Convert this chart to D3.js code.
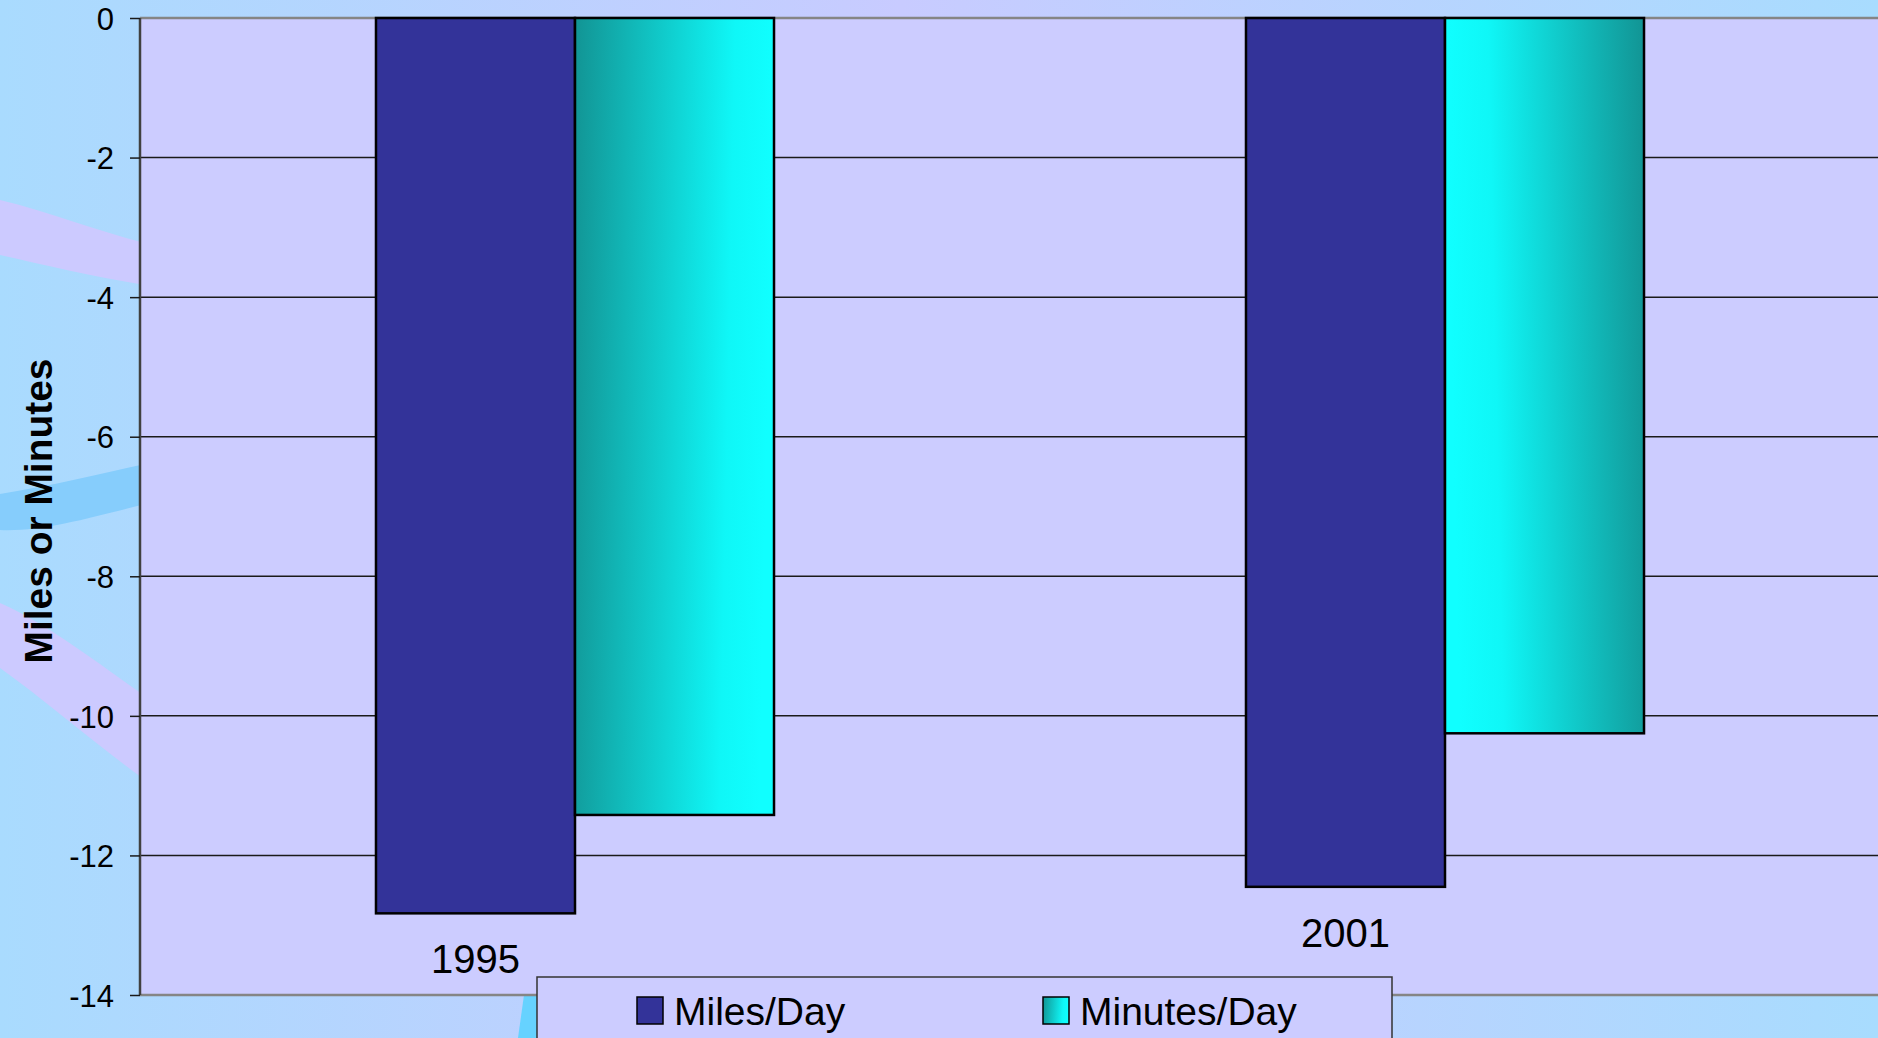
<!DOCTYPE html>
<html>
<head>
<meta charset="utf-8">
<script src="https://cdn.jsdelivr.net/npm/d3@7"></script>
<style>
  html, body { margin: 0; padding: 0; overflow: hidden; }
  svg { display: block; font-family: "Liberation Sans", Arial, sans-serif; }
</style>
</head>
<body>
<svg id="chart"></svg>
<script>
// Chart data
var years = ["1995", "2001"];
var seriesNames = ["Miles/Day", "Minutes/Day"];
var milesPerDay = [-12.83, -12.45];
var minutesPerDay = [-11.42, -10.25];
var yTicks = [0, -2, -4, -6, -8, -10, -12, -14];

var width = 1878;
var height = 1038;
var plotLeft = 140, plotRight = 1880, plotTop = 18, plotBottom = 995;

var svg = d3.select("#chart")
  .attr("width", width)
  .attr("height", height);

var defs = svg.append("defs");

// slide background
var bg = defs.append("linearGradient").attr("id", "bg")
  .attr("x1", "0%").attr("x2", "100%").attr("y1", "0%").attr("y2", "0%");
bg.append("stop").attr("offset", "0%").attr("stop-color", "#a9dbfe");
bg.append("stop").attr("offset", "48%").attr("stop-color", "#c8cbff");
bg.append("stop").attr("offset", "100%").attr("stop-color", "#a8dcfe");

// cyan bar fills, dark edge then bright
var gradDark = defs.append("linearGradient").attr("id", "cyanL")
  .attr("x1", "0%").attr("x2", "100%").attr("y1", "0%").attr("y2", "8%");
gradDark.append("stop").attr("offset", "0%").attr("stop-color", "#129494");
gradDark.append("stop").attr("offset", "80%").attr("stop-color", "#0ff7f7");
gradDark.append("stop").attr("offset", "100%").attr("stop-color", "#10ffff");

var gradBright = defs.append("linearGradient").attr("id", "cyanR")
  .attr("x1", "0%").attr("x2", "100%").attr("y1", "8%").attr("y2", "0%");
gradBright.append("stop").attr("offset", "0%").attr("stop-color", "#10ffff");
gradBright.append("stop").attr("offset", "22%").attr("stop-color", "#0ff7f7");
gradBright.append("stop").attr("offset", "100%").attr("stop-color", "#129494");

svg.append("rect")
  .attr("width", width)
  .attr("height", height)
  .style("fill", "url(#bg)");

// background swooshes
svg.append("path")
  .attr("d", "M0,200 C50,212 100,232 145,243 L145,285 C90,276 45,265 0,255 Z")
  .style("fill", "#cccaff");
svg.append("path")
  .attr("d", "M0,494 C50,486 100,474 145,464 L145,504 C90,518 40,532 0,530 Z")
  .style("fill", "#86cdfc");
svg.append("path")
  .attr("d", "M0,603 C50,625 100,665 145,696 L145,780 C90,740 45,700 0,668 Z")
  .style("fill", "#cccaff");
svg.append("path")
  .attr("d", "M524,995 L545,995 L538,1038 L518,1038 Z")
  .style("fill", "#66d2ff");

// plot area
svg.append("rect")
  .attr("x", plotLeft)
  .attr("y", plotTop)
  .attr("width", plotRight - plotLeft)
  .attr("height", plotBottom - plotTop)
  .style("fill", "#ccccff");

var y = d3.scaleLinear().domain([-14, 0]).range([plotBottom, plotTop]);

var x = d3.scaleBand()
  .domain(years)
  .range([plotLeft, plotRight])
  .paddingInner(0.5425)
  .paddingOuter(0.27125);

var xSub = d3.scaleBand()
  .domain(seriesNames)
  .range([0, x.bandwidth()]);

// gridlines
svg.append("g")
  .selectAll("line")
  .data(yTicks.filter(d => d !== 0 && d !== -14))
  .enter().append("line")
  .attr("x1", plotLeft).attr("x2", plotRight)
  .attr("y1", d => y(d)).attr("y2", d => y(d))
  .style("stroke", "#1a1a1a")
  .style("stroke-width", 1.5);

// top and bottom borders
svg.append("line")
  .attr("x1", plotLeft).attr("x2", plotRight)
  .attr("y1", y(0)).attr("y2", y(0))
  .style("stroke", "#858585").style("stroke-width", 2.5);
svg.append("line")
  .attr("x1", plotLeft).attr("x2", plotRight)
  .attr("y1", y(-14)).attr("y2", y(-14))
  .style("stroke", "#858585").style("stroke-width", 2.5);

// bars
var rows = years.map((yr, i) => ({
  year: yr,
  index: i,
  values: [
    { name: seriesNames[0], value: milesPerDay[i] },
    { name: seriesNames[1], value: minutesPerDay[i] }
  ]
}));

var groups = svg.append("g")
  .selectAll("g")
  .data(rows)
  .enter().append("g")
  .attr("transform", d => "translate(" + x(d.year) + ",0)");

groups.selectAll("rect")
  .data(d => d.values.map(v => Object.assign({ index: d.index }, v)))
  .enter().append("rect")
  .attr("x", d => xSub(d.name))
  .attr("y", y(0))
  .attr("width", xSub.bandwidth())
  .attr("height", d => y(d.value) - y(0))
  .style("fill", d => d.name === seriesNames[0] ? "#333399"
    : (d.index % 2 === 0 ? "url(#cyanL)" : "url(#cyanR)"))
  .style("stroke", "#000")
  .style("stroke-width", 2.5);

// category labels below the miles bars
groups.append("text")
  .attr("x", xSub(seriesNames[0]) + xSub.bandwidth() / 2)
  .attr("y", d => y(d.values[0].value) + 60)
  .attr("text-anchor", "middle")
  .style("font-size", "40px")
  .style("fill", "#000")
  .text(d => d.year);

// y axis (plain hyphen minus like the original)
var yAxis = d3.axisLeft(y)
  .tickValues(yTicks)
  .tickSize(10)
  .tickPadding(16)
  .tickFormat(d => String(d));

var axisG = svg.append("g")
  .attr("transform", "translate(" + plotLeft + ",0)")
  .call(yAxis);

axisG.select(".domain")
  .attr("d", "M0," + y(0) + "V" + y(-14))
  .style("stroke", "#404040")
  .style("stroke-width", 2.5);
axisG.selectAll(".tick line")
  .style("stroke", "#1a1a1a")
  .style("stroke-width", 1.5);
axisG.selectAll(".tick text")
  .style("font-size", "31px")
  .style("font-family", "'Liberation Sans', Arial, sans-serif")
  .style("fill", "#000")
  .attr("dy", "0.36em");

// y axis title
svg.append("text")
  .attr("transform", "translate(52,511) rotate(-90)")
  .attr("text-anchor", "middle")
  .attr("textLength", 305)
  .attr("lengthAdjust", "spacingAndGlyphs")
  .style("font-size", "39px")
  .style("font-weight", "bold")
  .style("fill", "#000")
  .text("Miles or Minutes");

// legend
var legend = svg.append("g");
legend.append("rect")
  .attr("x", 537)
  .attr("y", 977)
  .attr("width", 855)
  .attr("height", 90)
  .style("fill", "#ccccff")
  .style("stroke", "#333")
  .style("stroke-width", 1.5);

var legendX = d3.scaleOrdinal().domain(seriesNames).range([637, 1043]);

var items = legend.selectAll(".item")
  .data(seriesNames)
  .enter().append("g")
  .attr("class", "item")
  .attr("transform", d => "translate(" + legendX(d) + ",997)");

items.append("rect")
  .attr("width", 26)
  .attr("height", 27)
  .style("fill", (d, i) => i === 0 ? "#333399" : "url(#cyanL)")
  .style("stroke", "#000")
  .style("stroke-width", 1.5);

items.append("text")
  .attr("x", 37)
  .attr("y", 28)
  .style("font-size", "39px")
  .style("fill", "#000")
  .text(d => d);
</script>
</body>
</html>
